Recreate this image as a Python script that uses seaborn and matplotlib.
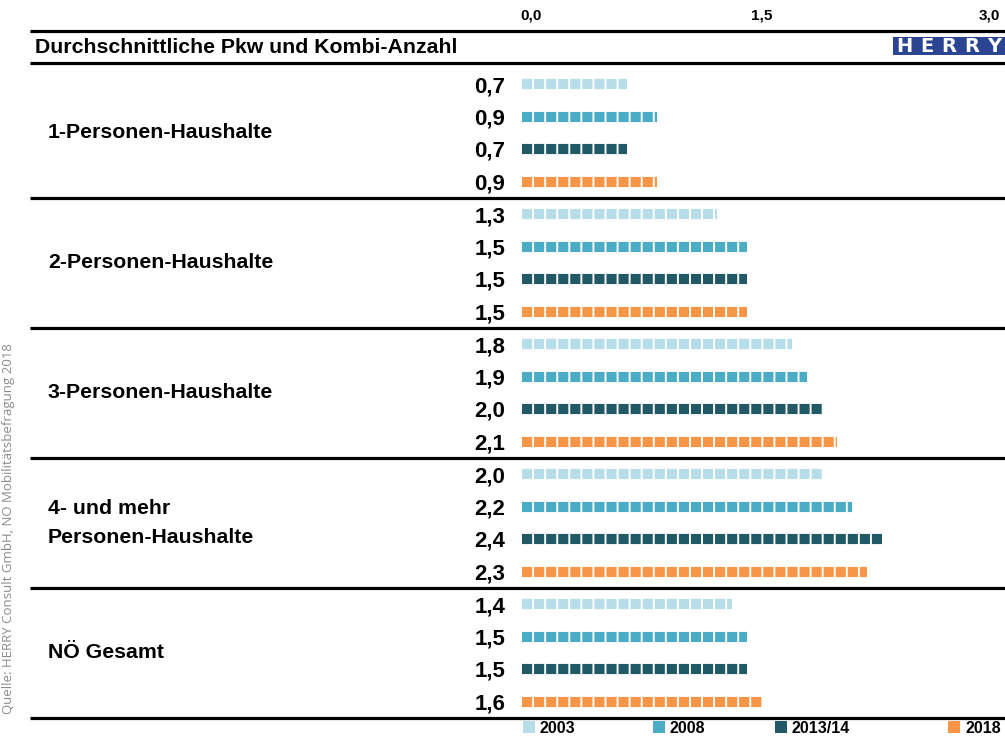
import numpy as np
import pandas as pd
import matplotlib
matplotlib.use("Agg")
import matplotlib.pyplot as plt
from matplotlib.patches import Rectangle
import seaborn as sns

# ---------------- data ----------------
groups = ["1-Personen-Haushalte", "2-Personen-Haushalte", "3-Personen-Haushalte",
          "4- und mehr\nPersonen-Haushalte", "NÖ Gesamt"]
years = ["2003", "2008", "2013/14", "2018"]
v2003 = [0.7, 1.3, 1.8, 2.0, 1.4]
v2008 = [0.9, 1.5, 1.9, 2.2, 1.5]
v2013 = [0.7, 1.5, 2.0, 2.4, 1.5]
v2018 = [0.9, 1.5, 2.1, 2.3, 1.6]
tick_labels = ["0,0", "1,5", "3,0"]
title = "Durchschnittliche Pkw und Kombi-Anzahl"
source = "Quelle: HERRY Consult GmbH, NÖ Mobilitätsbefragung 2018"

colors = {"2003": "#b7dee8", "2008": "#4bacc6", "2013/14": "#215967", "2018": "#f79646"}

# ---------------- layout helpers (pixel -> data) ----------------
W, H = 1005, 738
X0, SCALE = 522.0, 150.0     # x pixel of value 0, pixels per unit
Y0, PITCH = 84.0, 32.5       # y pixel of first row, pixels per row


def px2x(px):
    return (px - X0) / SCALE


def py2y(py):
    return (py - Y0) / PITCH


sns.set_theme(style="white")
plt.rcParams["font.family"] = ["Liberation Sans", "DejaVu Sans"]

fig = plt.figure(figsize=(W / 100, H / 100), dpi=100)
ax = fig.add_axes([0, 0, 1, 1])

vals = {"2003": v2003, "2008": v2008, "2013/14": v2013, "2018": v2018}
records = []
for g, grp in enumerate(groups):
    for k, yr in enumerate(years):
        pos = g * 4 + k
        v = vals[yr][g]
        records.append({"x": 0.0, "y": pos, "year": yr, "row": pos, "value": v})
        records.append({"x": v, "y": pos, "year": yr, "row": pos, "value": v})
df = pd.DataFrame(records)

lw_pt = 7.3  # ~10 px squares
sns.lineplot(data=df, x="x", y="y", hue="year", style="year", units="row",
             estimator=None, sort=False, palette=colors,
             dashes={yr: (1.0, 0.19) for yr in years},
             linewidth=lw_pt, legend=False, ax=ax)
for ln in ax.lines:
    ln.set_dash_capstyle("butt")
    ln.set_solid_capstyle("butt")

ax.set_xlim(px2x(0), px2x(W))
ax.set_ylim(py2y(H), py2y(0))
ax.axis("off")

# value labels and group labels
for g, grp in enumerate(groups):
    for k, yr in enumerate(years):
        v = vals[yr][g]
        ax.text(px2x(505), g * 4 + k, f"{v:.1f}".replace(".", ","), ha="right",
                va="center_baseline", fontsize=16, fontweight="bold", color="black")
    ax.text(px2x(48), g * 4 + 1.5, grp, ha="left", va="center", fontsize=15.3,
            fontweight="bold", color="black", linespacing=1.65)

# horizontal rules
rule_y = [py2y(31), py2y(63)] + [g * 4 + 3.5 for g in range(len(groups))]
ax.hlines(rule_y, px2x(30), px2x(W), color="black", linewidth=2.3)

# title
ax.text(px2x(35), py2y(47.5), title, ha="left", va="center", fontsize=15.3,
        fontweight="bold", color="black")

# top tick labels
for lab, px in zip(tick_labels, [531, 762, 989]):
    ax.text(px2x(px), py2y(16), lab, ha="center", va="center", fontsize=11,
            fontweight="bold", color="black")

# HERRY logo
ax.add_patch(Rectangle((px2x(893), py2y(55)), px2x(1005) - px2x(893), py2y(37) - py2y(55),
                       facecolor="#2c4593", edgecolor="none"))
for i, ch in enumerate("HERRY"):
    ax.text(px2x(893 + 112 * (i + 0.5) / 5), py2y(46), ch, ha="center", va="center",
            fontsize=14, fontweight="bold", color="white", family="DejaVu Sans")

# legend (manual)
leg_sq = [528.5, 659, 780.5, 954]
leg_tx = [540, 670, 792, 966]
for yr, sq, tx in zip(years, leg_sq, leg_tx):
    ax.scatter([px2x(sq)], [py2y(727)], marker="s", s=75, color=colors[yr], linewidths=0)
    ax.text(px2x(tx), py2y(727), yr, ha="left", va="center_baseline", fontsize=11.5,
            fontweight="bold", color="black")

# source
fig.text(8 / W, 1 - 529 / H, source, rotation=90, ha="center", va="center",
         fontsize=9.5, color="#8c8c8c", family=["Open Sans", "DejaVu Sans"])

fig.savefig("out.png", dpi=100)
